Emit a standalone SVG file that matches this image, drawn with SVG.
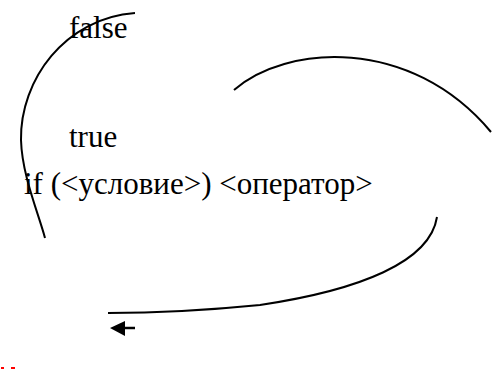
<svg xmlns="http://www.w3.org/2000/svg" width="492" height="369" viewBox="0 0 492 369">
<style>
.t{font-family:"Liberation Serif","Times New Roman",serif;font-size:31px;fill:#000}
.c{fill:none;stroke:#000;stroke-width:2}
</style>
<rect width="492" height="369" fill="#fff"/>
<g id="connectors">
<path class="c" d="M135,13 C65,18 20,80 21,140 C22,175 38,212 45,238"/>
<path class="c" d="M234,90 C285,45 410,35 491,132"/>
<path class="c" d="M437,217 C430,262 360,290 260,305 C200,311 150,313 108,313"/>
<g id="arrow">
<line x1="123" y1="328" x2="135" y2="328" stroke="#000" stroke-width="2.5"/>
<polygon points="110,328 125,321 125,336" fill="#000"/>
</g>
</g>
<g id="label-false"><text class="t" x="69" y="38">false</text></g>
<g id="label-true"><text class="t" x="69" y="147">true</text></g>
<g id="statement"><text class="t" x="24" y="194">if (&lt;условие&gt;) &lt;оператор&gt;</text></g>
<g id="marks">
<rect x="1" y="367" width="3" height="2" fill="#f00"/>
<rect x="11" y="367" width="4" height="2" fill="#f00"/>
</g>
</svg>
